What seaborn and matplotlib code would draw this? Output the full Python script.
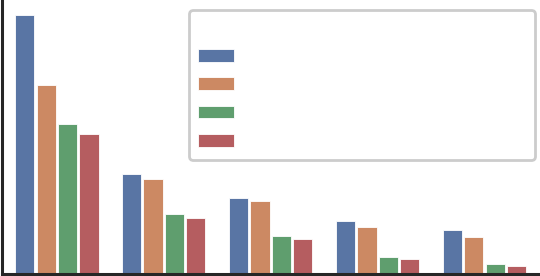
import matplotlib
matplotlib.use("Agg")
import matplotlib.pyplot as plt
import seaborn as sns
import pandas as pd

categories = ["A", "B", "C", "D", "E"]
series = ["S1", "S2", "S3", "S4"]
s1 = [100.0, 38.5, 29.1, 20.2, 16.8]
s2 = [73.2, 36.7, 28.1, 18.2, 14.0]
s3 = [58.0, 23.0, 14.7, 6.5, 3.5]
s4 = [54.1, 21.7, 13.5, 5.6, 3.1]

rows = []
for name, vals in zip(series, [s1, s2, s3, s4]):
    for c, v in zip(categories, vals):
        rows.append({"cat": c, "series": name, "value": v})
df = pd.DataFrame(rows)

sns.set_style("ticks")
fig = plt.figure(figsize=(5.4, 2.76), dpi=100)
ax = fig.add_axes([1.5 / 540, 2.5 / 276, 538.5 / 540, 273.5 / 276])
sns.barplot(data=df, x="cat", y="value", hue="series", ax=ax, palette="deep",
            edgecolor="white", linewidth=0.6, gap=0.1)
ax.set_xlim(-0.518, 4.519)
ax.set_ylim(0, 106.0)
for s in ["top", "right"]:
    ax.spines[s].set_visible(False)
for s in ["left", "bottom"]:
    ax.spines[s].set_linewidth(2.2)
    ax.spines[s].set_color("#262626")
ax.set_xticks([])
ax.set_yticks([])
ax.set_xlabel("")
ax.set_ylabel("")

handles, _ = ax.get_legend_handles_labels()
leg = ax.legend(handles, ["", "", "", ""], title=" ", loc="upper left",
                bbox_to_anchor=(0.3487, 0.0, 0.6411, 0.9634), mode="expand",
                borderaxespad=0, fontsize=13, title_fontsize=13,
                handlelength=2.0, handleheight=0.7, labelspacing=0.58,
                borderpad=0.5, frameon=True, fancybox=True)
fr = leg.get_frame()
fr.set_edgecolor("#cccccc")
fr.set_linewidth(2.0)
fr.set_alpha(1.0)

fig.savefig("out.png", dpi=100)
